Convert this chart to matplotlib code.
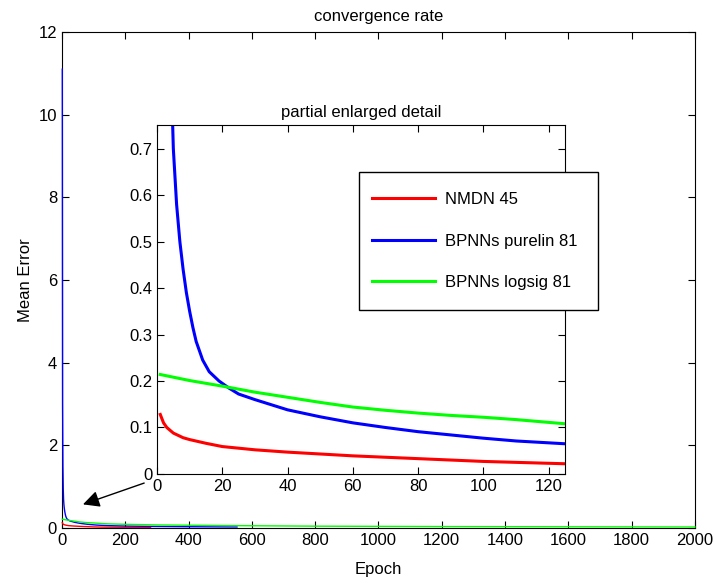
import matplotlib.pyplot as plt
from matplotlib.patches import Rectangle

plt.rcParams['font.family'] = ['Liberation Sans', 'DejaVu Sans']

# epochs / mean error
red_epoch = [1, 2, 3, 5, 8, 10, 15, 20, 30, 40, 50, 60, 70, 80, 90, 100, 110, 125, 150, 200, 280]
red_err = [0.128, 0.11, 0.1, 0.088, 0.078, 0.074, 0.066, 0.059, 0.052, 0.047, 0.043, 0.039,
           0.036, 0.033, 0.03, 0.027, 0.025, 0.022, 0.02, 0.017, 0.014]

blue_epoch = [1, 2, 3, 4, 5, 6, 7, 8, 9, 10, 11, 12, 14, 16, 19, 22, 25, 30, 40, 50, 60, 70,
              80, 90, 100, 110, 125, 150, 200, 300, 400, 553]
blue_err = [11.1, 3.0, 1.5, 0.95, 0.7, 0.58, 0.5, 0.44, 0.39, 0.35, 0.315, 0.285, 0.245, 0.22,
            0.2, 0.185, 0.172, 0.16, 0.138, 0.123, 0.11, 0.1, 0.091, 0.084, 0.077, 0.071,
            0.065, 0.057, 0.047, 0.037, 0.031, 0.025]

green_epoch = [1, 10, 20, 30, 40, 50, 60, 70, 80, 90, 100, 110, 125, 150, 200, 300, 500,
               800, 1200, 1600, 2000]
green_err = [0.214, 0.201, 0.189, 0.176, 0.165, 0.154, 0.144, 0.137, 0.131, 0.126, 0.122,
             0.117, 0.108, 0.1, 0.09, 0.075, 0.06, 0.045, 0.035, 0.03, 0.025]

labels = ['NMDN 45', 'BPNNs purelin 81', 'BPNNs logsig 81']
colors = ['#ff0000', '#0000ff', '#00ff00']
series = [(red_epoch, red_err), (blue_epoch, blue_err), (green_epoch, green_err)]

fig = plt.figure(figsize=(7.14, 5.83), dpi=100)
ax = fig.add_axes([0.0868, 0.0943, 0.8866, 0.8508])
for (x, y), c in zip(series, colors):
    ax.plot(x, y, color=c, lw=1.0, zorder=3, clip_on=False)
ax.set_xlim(0, 2000)
ax.set_ylim(0, 12)
ax.set_xticks(range(0, 2001, 200))
ax.set_yticks(range(0, 13, 2))
ax.tick_params(direction='in', top=True, right=True, length=5, labelsize=12)
ax.set_xlabel('Epoch', fontsize=12, labelpad=10)
ax.set_ylabel('Mean Error', fontsize=12)
ax.set_title('convergence rate', fontsize=12, pad=8)

ax.annotate('', xy=(58, 0.55), xytext=(268, 1.11),
            arrowprops=dict(arrowstyle='-|>', color='k', lw=1, mutation_scale=25))

ins = fig.add_axes([0.2199, 0.187, 0.5714, 0.598])
for (x, y), c, lab in zip(series, colors, labels):
    ins.plot(x, y, color=c, lw=2.2, label=lab)
ins.set_xlim(0, 125)
ins.set_ylim(0, 0.75)
ins.set_xticks(range(0, 121, 20))
ins.set_yticks([0, 0.1, 0.2, 0.3, 0.4, 0.5, 0.6, 0.7])
ins.set_yticklabels(['0', '0.1', '0.2', '0.3', '0.4', '0.5', '0.6', '0.7'])
ins.tick_params(direction='in', top=True, right=True, length=5, labelsize=12)
ins.set_title('partial enlarged detail', fontsize=12)

# legend box, sticking out past the inset like in the original
ins.add_patch(Rectangle((0.5028, 0.4683), 0.3347, 0.2367, transform=fig.transFigure,
                        facecolor='white', edgecolor='k', lw=1, zorder=4, clip_on=False))
leg = ins.legend(loc='upper left', bbox_to_anchor=(0.509, 0.685), bbox_transform=fig.transFigure,
                 fontsize=12, frameon=False, handlelength=3.8, labelspacing=1.6,
                 borderpad=0.5, handletextpad=0.6, borderaxespad=0)
leg.set_zorder(6)

fig.savefig('out.png', dpi=100)
